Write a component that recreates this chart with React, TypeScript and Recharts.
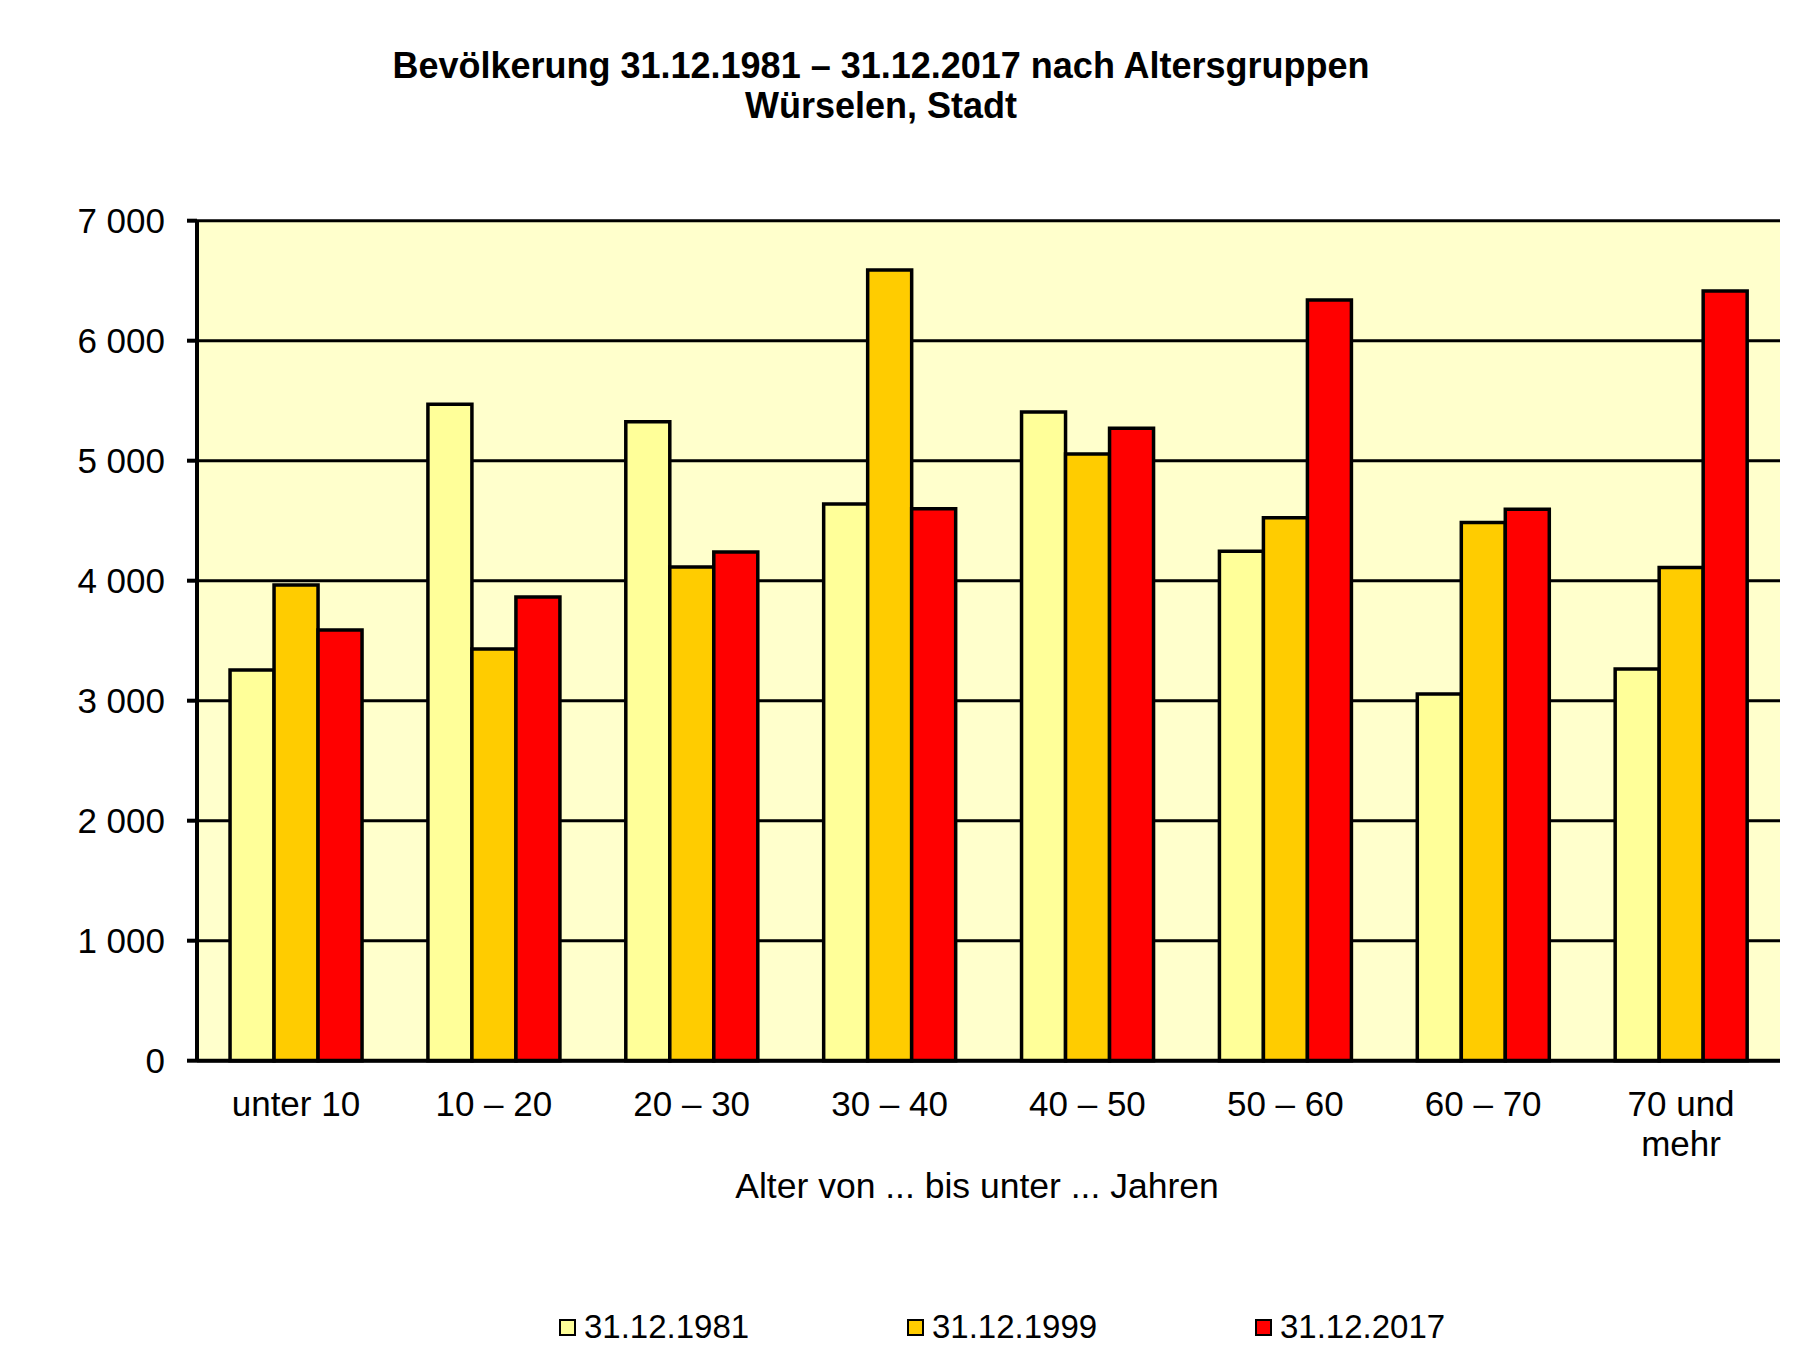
import { BarChart, Bar, XAxis, YAxis, CartesianGrid } from 'recharts'

// Bevölkerung Würselen nach Altersgruppen, Stichtage 1981 / 1999 / 2017
const categories = ['unter 10', '10 – 20', '20 – 30', '30 – 40', '40 – 50', '50 – 60', '60 – 70', '70 und\nmehr']
const v1981 = [3255, 5470, 5325, 4640, 5405, 4245, 3055, 3265]
const v1999 = [3965, 3430, 4115, 6590, 5055, 4525, 4485, 4110]
const v2017 = [3590, 3865, 4240, 4600, 5270, 6340, 4595, 6415]
const yTicks = [0, 1000, 2000, 3000, 4000, 5000, 6000, 7000]

const seriesNames = ['31.12.1981', '31.12.1999', '31.12.2017']
const seriesColors = ['#FFFF99', '#FFCC00', '#FF0000']

const FONT = '"Liberation Sans", Arial, sans-serif'

const data = categories.map((c, i) => ({
  cat: c,
  a: v1981[i],
  b: v1999[i],
  c2: v2017[i],
}))

const fmt = (v: number) => (v >= 1000 ? `${Math.floor(v / 1000)} ${String(v % 1000).padStart(3, '0')}` : String(v))

function CatTick(props: any) {
  const { x, y, payload } = props
  const lines = String(payload.value).split('\n')
  return (
    <text x={x} y={y + 53} textAnchor="middle" fontSize={35} fontFamily={FONT} fill="#000">
      {lines.map((l, i) => (
        <tspan key={i} x={x} dy={i === 0 ? 0 : 40}>
          {l}
        </tspan>
      ))}
    </text>
  )
}

export default function App() {
  return (
    <div style={{ position: 'absolute', left: 0, top: 0, width: 1804, height: 1356, background: '#fff', fontFamily: FONT }}>
      <div style={{ position: 'absolute', left: 0, width: 1762, top: 46, textAlign: 'center', fontWeight: 'bold', fontSize: 36, lineHeight: '40px', color: '#000' }}>
        Bevölkerung 31.12.1981 – 31.12.2017 nach Altersgruppen
        <br />
        Würselen, Stadt
      </div>

      <BarChart
        width={1804}
        height={1356}
        data={data}
        margin={{ top: 220.7, right: 24, left: 77, bottom: 235.3 }}
        barCategoryGap="16.7%"
        barGap={0}
      >
        <CartesianGrid vertical={false} stroke="#000" strokeWidth={3} fill="#FFFFCC" />
        <XAxis
          dataKey="cat"
          height={60}
          tickLine={false}
          tickSize={0}
          axisLine={{ stroke: '#000', strokeWidth: 4 }}
          tick={<CatTick />}
          interval={0}
        />
        <YAxis
          width={120}
          domain={[0, 7000]}
          ticks={yTicks}
          tickFormatter={fmt}
          tickSize={10}
          tickMargin={22}
          tickLine={{ stroke: '#000', strokeWidth: 4 }}
          axisLine={{ stroke: '#000', strokeWidth: 4 }}
          tick={{ fill: '#000', fontSize: 35, fontFamily: FONT }}
        />
        <YAxis
          yAxisId="right"
          orientation="right"
          width={0}
          domain={[0, 7000]}
          tick={false}
          tickLine={false}
          axisLine={{ stroke: '#000', strokeWidth: 4 }}
        />
        <Bar dataKey="a" name={seriesNames[0]} fill={seriesColors[0]} stroke="#000" strokeWidth={3.5} isAnimationActive={false} />
        <Bar dataKey="b" name={seriesNames[1]} fill={seriesColors[1]} stroke="#000" strokeWidth={3.5} isAnimationActive={false} />
        <Bar dataKey="c2" name={seriesNames[2]} fill={seriesColors[2]} stroke="#000" strokeWidth={3.5} isAnimationActive={false} />
      </BarChart>

      <div style={{ position: 'absolute', left: 0, width: 1954, top: 1166, textAlign: 'center', fontSize: 35.5, color: '#000' }}>
        Alter von ... bis unter ... Jahren
      </div>

      <div style={{ position: 'absolute', left: 559, top: 1307, display: 'flex' }}>
        {seriesNames.map((n, i) => (
          <div key={n} style={{ width: 348, display: 'flex', alignItems: 'center', fontSize: 33, lineHeight: '40px', color: '#000' }}>
            <span style={{ width: 13, height: 13, background: seriesColors[i], border: '2px solid #000', marginRight: 8, display: 'inline-block' }} />
            {n}
          </div>
        ))}
      </div>
    </div>
  )
}
